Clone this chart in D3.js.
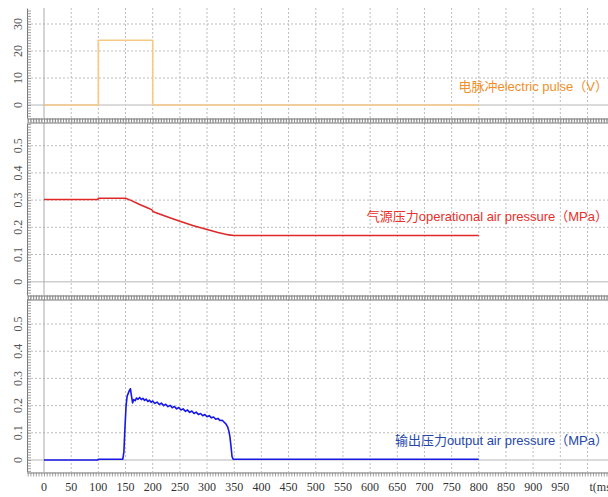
<!DOCTYPE html>
<html><head><meta charset="utf-8">
<script src="https://cdn.jsdelivr.net/npm/d3@7"></script>
<style>body{margin:0;background:#fff}svg{display:block}</style>
</head><body><svg id="c" width="608" height="497"></svg>
<script>
// ---------------- data ----------------
const xTickValues = [0,50,100,150,200,250,300,350,400,450,500,550,600,650,700,750,800,850,900,950];
const xAxisTitle = "t(ms)";
const pulseTicks = [0,10,20,30];
const pressTicks = [0,0.1,0.2,0.3,0.4,0.5];
const seriesLabels = ["电脉冲electric pulse（V）","气源压力operational air pressure（MPa）","输出压力output air pressure（MPa）"];

const pulseTime = [0,100,100,200,200,800];
const pulseVolt = [0,0,24,24,0,0];

const opTime  = [0,99,100,125,150,160,175,190,198,201,210,225,250,275,285,300,320,340,350,400,500,600,700,800];
const opPress = [0.302,0.302,0.307,0.307,0.307,0.299,0.285,0.272,0.265,0.257,0.251,0.24,0.222,0.206,0.2,0.192,0.181,0.172,0.17,0.17,0.17,0.17,0.17,0.17];

const outTime  = [0,99,100,145,147,149,151,153,155,157,159,161,163,165,168,170,173,176,179,182,185,188,191,194,197,200,204,208,212,216,220,224,228,232,236,240,244,248,252,256,260,264,268,272,276,280,284,288,292,296,300,304,308,312,316,320,324,328,332,335,338,340,342,344,346,348,400,500,600,700,800];
const outPress = [0,0,0.003,0.003,0.03,0.12,0.2,0.235,0.245,0.255,0.262,0.235,0.21,0.222,0.218,0.228,0.223,0.23,0.222,0.227,0.219,0.224,0.215,0.22,0.212,0.217,0.208,0.213,0.204,0.209,0.2,0.205,0.196,0.201,0.192,0.197,0.188,0.193,0.184,0.188,0.179,0.184,0.175,0.18,0.171,0.176,0.167,0.171,0.163,0.167,0.159,0.163,0.155,0.158,0.15,0.153,0.145,0.146,0.138,0.132,0.121,0.107,0.087,0.052,0.012,0.003,0.003,0.003,0.003,0.003,0.003];

// ---------------- layout ----------------
const svg = d3.select("#c");
const L = 27, R = 608;
const serif = "'Liberation Serif', 'DejaVu Serif', serif";
const x = d3.scaleLinear().domain([0,1000]).range([44,587.5]);
const rx = x.copy().domain([x.invert(L), x.invert(R)]).range([L,R]);

const panels = [
  {top:8,   bottom:118, y:d3.scaleLinear().domain([0,30]).range([105,24]),    ticks:pulseTicks, minor:1,    t:pulseTime, v:pulseVolt, line:"#f8c985", lw:1.6, label:seriesLabels[0], lc:"#f0902a", ly:91},
  {top:123, bottom:295, y:d3.scaleLinear().domain([0,0.5]).range([281.7,145.7]), ticks:pressTicks, minor:0.01, t:opTime, v:opPress, line:"#e02828", lw:1.6, label:seriesLabels[1], lc:"#e8302c", ly:221},
  {top:299, bottom:472, y:d3.scaleLinear().domain([0,0.5]).range([460,324]),  ticks:pressTicks, minor:0.01, t:outTime, v:outPress, line:"#1818e6", lw:1.6, label:seriesLabels[2], lc:"#2447a8", ly:445}
];

const gridX = xTickValues.filter(d=>d>0).concat([1000]);

panels.forEach((p,i)=>{
  const g = svg.append("g");
  g.selectAll("line.vg").data(gridX).join("line")
    .attr("x1",d=>x(d)).attr("x2",d=>x(d)).attr("y1",p.top).attr("y2",p.bottom)
    .attr("stroke","#bdbdbd").attr("stroke-dasharray","2,2").attr("stroke-width",1);
  g.selectAll("line.hg").data(p.ticks.filter(d=>d!==0)).join("line")
    .attr("x1",L).attr("x2",R).attr("y1",d=>p.y(d)).attr("y2",d=>p.y(d))
    .attr("stroke","#bdbdbd").attr("stroke-dasharray","2,2").attr("stroke-width",1);
  g.append("line").attr("x1",L).attr("x2",R).attr("y1",p.y(0)).attr("y2",p.y(0))
    .attr("stroke","#cfcfcf").attr("stroke-width",1.5);
  g.append("line").attr("x1",x(0)).attr("x2",x(0)).attr("y1",p.top).attr("y2",p.bottom)
    .attr("stroke","#aaaaaa").attr("stroke-width",1);
  const ry = p.y.copy().domain([p.y.invert(p.bottom), p.y.invert(p.top)]).range([p.bottom,p.top]);
  const lo = Math.ceil(ry.domain()[0]/p.minor), hi = Math.floor(ry.domain()[1]/p.minor);
  const minorVals = d3.range(lo, hi+1).map(k=>k*p.minor);
  const ax = g.append("g").attr("transform",`translate(${L},0)`)
    .call(d3.axisRight(ry).tickValues(minorVals).tickSize(4).tickSizeOuter(0).tickFormat(""));
  ax.selectAll("path").attr("stroke","#777");
  ax.selectAll("line").attr("stroke","#888").attr("stroke-width",0.8);
  g.selectAll("text.yl").data(p.ticks).join("text")
    .attr("transform",d=>`translate(18,${p.y(d)}) rotate(-90)`)
    .attr("text-anchor","middle").attr("dominant-baseline","central")
    .style("font-family",serif).attr("font-size",12).attr("fill","#555")
    .text(d=>d);
  const pts = p.t.map((t,k)=>[t,p.v[k]]);
  g.append("path").datum(pts)
    .attr("d", d3.line().x(d=>x(d[0])).y(d=>p.y(d[1])))
    .attr("fill","none").attr("stroke",p.line).attr("stroke-width",p.lw).attr("stroke-linejoin","round");
  g.append("text").attr("x",608).attr("y",p.ly).attr("text-anchor","end")
    .style("font-family","'Liberation Sans', 'Noto Sans CJK SC', sans-serif").attr("font-size",13)
    .attr("fill",p.lc).text(p.label);
});

const rulerVals = d3.range(Math.ceil(rx.domain()[0]/5), Math.floor(rx.domain()[1]/5)+1).map(k=>k*5);
function ruler(yy, dir){
  const a = (dir>0? d3.axisBottom(rx) : d3.axisTop(rx)).tickValues(rulerVals).tickSize(4).tickSizeOuter(0).tickFormat("");
  const gg = svg.append("g").attr("transform",`translate(0,${yy})`).call(a);
  gg.selectAll("path").attr("stroke","#777");
  gg.selectAll("line").attr("stroke","#888").attr("stroke-width",0.8);
}
ruler(118.5, 1); ruler(122.5,-1);
ruler(295.5, 1); ruler(299.5,-1);
ruler(472.5, 1);

svg.append("g").selectAll("text").data(xTickValues).join("text")
  .attr("x",d=>x(d)).attr("y",491).attr("text-anchor","middle")
  .style("font-family",serif).attr("font-size",12).attr("fill","#333")
  .text(d=>d);
svg.append("text").attr("x",x(1000)+2).attr("y",491).attr("text-anchor","start")
  .style("font-family",serif).attr("font-size",12).attr("fill","#333")
  .text(xAxisTitle);
</script></body></html>
